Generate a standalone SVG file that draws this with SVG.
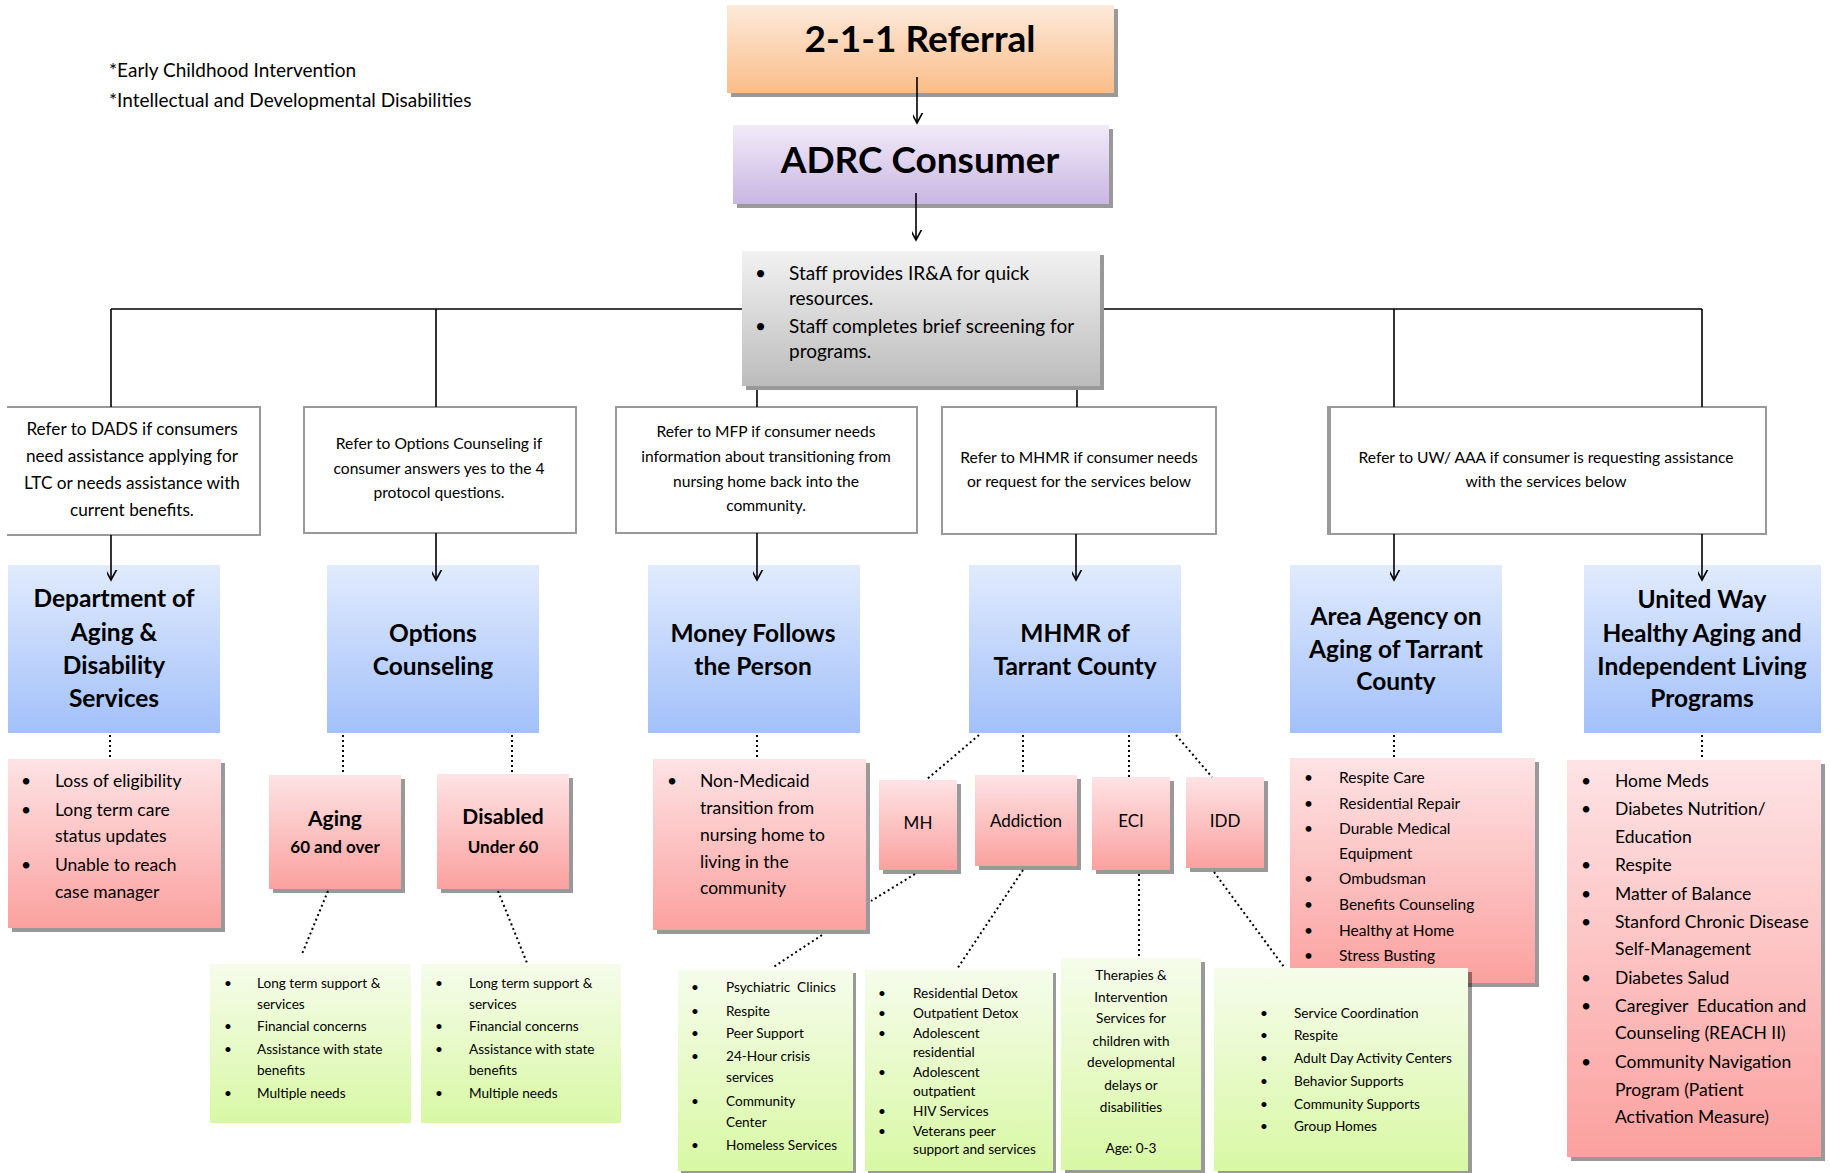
<svg xmlns="http://www.w3.org/2000/svg" width="1830" height="1173" viewBox="0 0 1830 1173">
<style>
text{font-family:Lato,"Liberation Sans",sans-serif;fill:#000}
.b{font-weight:bold}
.c{text-anchor:middle}
.sh{fill:#000;fill-opacity:0.4}
.ref{fill:#fff;stroke:#999;stroke-width:2}
.ln{stroke:#000;stroke-width:1.6;fill:none}
.dot{stroke:#000;stroke-width:2;fill:none;stroke-dasharray:2 3}
.or{fill:url(#gOr)}.pu{fill:url(#gPu)}.gr{fill:url(#gGr)}.bl{fill:url(#gBl)}.pk{fill:url(#gPk)}.gn{fill:url(#gGn)}
.f17{font-size:17.5px}.f15{font-size:15.6px}.f16{font-size:17.2px}.f13{font-size:13.6px}.f24{font-size:24.5px}.f155{font-size:15.5px}.f19{font-size:19px}
</style>
<defs>
<linearGradient id="gOr" x1="0" y1="0" x2="0" y2="1"><stop offset="0" stop-color="#fdeadb"/><stop offset="1" stop-color="#fbbd89"/></linearGradient>
<linearGradient id="gPu" x1="0" y1="0" x2="0" y2="1"><stop offset="0" stop-color="#f1ebf9"/><stop offset="1" stop-color="#cab6e3"/></linearGradient>
<linearGradient id="gGr" x1="0" y1="0" x2="0" y2="1"><stop offset="0" stop-color="#f2f2f2"/><stop offset="1" stop-color="#bcbcbc"/></linearGradient>
<linearGradient id="gBl" x1="0" y1="0" x2="0" y2="1"><stop offset="0" stop-color="#e1ebfd"/><stop offset="1" stop-color="#a2c0fa"/></linearGradient>
<linearGradient id="gPk" x1="0" y1="0" x2="0" y2="1"><stop offset="0" stop-color="#fee3e5"/><stop offset="1" stop-color="#fba19f"/></linearGradient>
<linearGradient id="gGn" x1="0" y1="0" x2="0" y2="1"><stop offset="0" stop-color="#f6fceb"/><stop offset="1" stop-color="#d8f8a4"/></linearGradient>
<marker id="arr" markerUnits="userSpaceOnUse" markerWidth="20" markerHeight="20" viewBox="-10 -16 20 20" refX="0" refY="0" orient="auto">
<path d="M-13,-7 L0,0 L-13,7" fill="none" stroke="#000" stroke-width="1.6"/>
</marker>
</defs>
<rect width="1830" height="1173" fill="#fff"/>

<g id="notes">
<text class="f19" x="109" y="77">*Early Childhood Intervention</text>
<text class="f19" x="109" y="107">*Intellectual and Developmental Disabilities</text>
</g>

<g id="referral211">
<rect class="sh" x="731" y="9" width="387" height="88"/>
<rect class="or" x="727" y="5" width="387" height="88"/>
<text class="b c" x="920" y="52" font-size="37">2-1-1 Referral</text>
</g>

<g id="adrc">
<rect class="sh" x="737" y="129" width="376" height="79"/>
<rect class="pu" x="733" y="125" width="376" height="79"/>
<text class="b c" x="920" y="173" font-size="37">ADRC Consumer</text>
</g>

<g id="staff">
<rect class="sh" x="746" y="255" width="358" height="135"/>
<rect class="gr" x="742" y="251" width="358" height="135"/>
<text class="f19" x="755" y="280">•</text>
<text class="f19" x="789" y="280">Staff provides IR&amp;A for quick</text>
<text class="f19" x="789" y="305">resources.</text>
<text class="f19" x="755" y="333">•</text>
<text class="f19" x="789" y="333">Staff completes brief screening for</text>
<text class="f19" x="789" y="358">programs.</text>
</g>

<g id="ref-dads">
<rect fill="#fff" x="7" y="407" width="253" height="128"/>
<path d="M7,407 H260 V535 H7" fill="none" stroke="#999" stroke-width="2"/>
<text class="c f16" x="132" y="435">Refer to DADS if consumers</text>
<text class="c f16" x="132" y="462">need assistance applying for</text>
<text class="c f16" x="132" y="489">LTC or needs assistance with</text>
<text class="c f16" x="132" y="516">current benefits.</text>
</g>

<g id="ref-options">
<rect class="ref" x="304" y="407" width="272" height="126"/>
<text class="c f15" x="439" y="449">Refer to Options Counseling if</text>
<text class="c f15" x="439" y="474">consumer answers yes to the 4</text>
<text class="c f15" x="439" y="498">protocol questions.</text>
</g>

<g id="ref-mfp">
<rect class="ref" x="616" y="407" width="301" height="126"/>
<text class="c f15" x="766" y="437">Refer to MFP if consumer needs</text>
<text class="c f15" x="766" y="462">information about transitioning from</text>
<text class="c f15" x="766" y="487">nursing home back into the</text>
<text class="c f15" x="766" y="511">community.</text>
</g>

<g id="ref-mhmr">
<rect class="ref" x="942" y="407" width="274" height="127"/>
<text class="c f15" x="1079" y="463">Refer to MHMR if consumer needs</text>
<text class="c f15" x="1079" y="487">or request for the services below</text>
</g>

<g id="ref-uwaaa">
<rect class="ref" x="1328" y="407" width="438" height="127"/>
<rect fill="#999" x="1327" y="406" width="4" height="129"/>
<text class="c f15" x="1546" y="463">Refer to UW/ AAA if consumer is requesting assistance</text>
<text class="c f15" x="1546" y="487">with the services below</text>
</g>

<g id="dads">
<rect class="bl" x="8" y="565" width="212" height="168"/>
<text class="b c f24" x="114" y="607">Department of</text>
<text class="b c f24" x="114" y="641">Aging &amp;</text>
<text class="b c f24" x="114" y="674">Disability</text>
<text class="b c f24" x="114" y="707">Services</text>
</g>

<g id="options">
<rect class="bl" x="327" y="565" width="212" height="168"/>
<text class="b c f24" x="433" y="642">Options</text>
<text class="b c f24" x="433" y="675">Counseling</text>
</g>

<g id="mfp">
<rect class="bl" x="648" y="565" width="212" height="168"/>
<text class="b c f24" x="753" y="642">Money Follows</text>
<text class="b c f24" x="753" y="675">the Person</text>
</g>

<g id="mhmr">
<rect class="bl" x="969" y="565" width="212" height="168"/>
<text class="b c f24" x="1075" y="642">MHMR of</text>
<text class="b c f24" x="1075" y="675">Tarrant County</text>
</g>

<g id="aaa">
<rect class="bl" x="1290" y="565" width="212" height="168"/>
<text class="b c f24" x="1396" y="625">Area Agency on</text>
<text class="b c f24" x="1396" y="658">Aging of Tarrant</text>
<text class="b c f24" x="1396" y="690">County</text>
</g>

<g id="uw">
<rect class="bl" x="1584" y="565" width="237" height="168"/>
<text class="b c f24" x="1702" y="608">United Way</text>
<text class="b c f24" x="1702" y="642">Healthy Aging and</text>
<text class="b c f24" x="1702" y="675">Independent Living</text>
<text class="b c f24" x="1702" y="707">Programs</text>
</g>

<g id="dads-list">
<rect class="sh" x="12" y="763" width="213" height="169"/>
<rect class="pk" x="8" y="759" width="213" height="169"/>
<text class="f17" x="21" y="787">•</text><text class="f17" x="55" y="787">Loss of eligibility</text>
<text class="f17" x="21" y="816">•</text><text class="f17" x="55" y="816">Long term care</text>
<text class="f17" x="55" y="842">status updates</text>
<text class="f17" x="21" y="871">•</text><text class="f17" x="55" y="871">Unable to reach</text>
<text class="f17" x="55" y="898">case manager</text>
</g>

<g id="aging">
<rect class="sh" x="273" y="779" width="132" height="114"/>
<rect class="pk" x="269" y="775" width="132" height="114"/>
<text class="b c" x="335" y="826" font-size="21">Aging</text>
<text class="b c" x="335" y="853" font-size="17">60 and over</text>
</g>

<g id="disabled">
<rect class="sh" x="441" y="778" width="132" height="115"/>
<rect class="pk" x="437" y="774" width="132" height="115"/>
<text class="b c" x="503" y="824" font-size="21">Disabled</text>
<text class="b c" x="503" y="853" font-size="17">Under 60</text>
</g>

<g id="aging-list">
<rect class="gn" x="210" y="964" width="201" height="159"/>
<text class="f13" x="224" y="988">•</text><text class="f13" x="257" y="988">Long term support &amp;</text>
<text class="f13" x="257" y="1009">services</text>
<text class="f13" x="224" y="1031">•</text><text class="f13" x="257" y="1031">Financial concerns</text>
<text class="f13" x="224" y="1054">•</text><text class="f13" x="257" y="1054">Assistance with state</text>
<text class="f13" x="257" y="1075">benefits</text>
<text class="f13" x="224" y="1098">•</text><text class="f13" x="257" y="1098">Multiple needs</text>
</g>

<g id="disabled-list">
<rect class="gn" x="421" y="964" width="200" height="159"/>
<text class="f13" x="435" y="988">•</text><text class="f13" x="469" y="988">Long term support &amp;</text>
<text class="f13" x="469" y="1009">services</text>
<text class="f13" x="435" y="1031">•</text><text class="f13" x="469" y="1031">Financial concerns</text>
<text class="f13" x="435" y="1054">•</text><text class="f13" x="469" y="1054">Assistance with state</text>
<text class="f13" x="469" y="1075">benefits</text>
<text class="f13" x="435" y="1098">•</text><text class="f13" x="469" y="1098">Multiple needs</text>
</g>

<g id="mfp-list">
<rect class="sh" x="657" y="763" width="213" height="171"/>
<rect class="pk" x="653" y="759" width="213" height="171"/>
<text class="f17" x="667" y="787">•</text><text class="f17" x="700" y="787">Non-Medicaid</text>
<text class="f17" x="700" y="814">transition from</text>
<text class="f17" x="700" y="841">nursing home to</text>
<text class="f17" x="700" y="868">living in the</text>
<text class="f17" x="700" y="894">community</text>
</g>

<g id="mh">
<rect class="sh" x="883" y="784" width="78" height="90"/>
<rect class="pk" x="879" y="780" width="78" height="90"/>
<text class="c" x="918" y="829" font-size="17">MH</text>
</g>

<g id="addiction">
<rect class="sh" x="979" y="779" width="102" height="91"/>
<rect class="pk" x="975" y="775" width="102" height="91"/>
<text class="c" x="1026" y="827" font-size="17">Addiction</text>
</g>

<g id="eci">
<rect class="sh" x="1096" y="781" width="78" height="93"/>
<rect class="pk" x="1092" y="777" width="78" height="93"/>
<text class="c" x="1131" y="827" font-size="17">ECI</text>
</g>

<g id="idd">
<rect class="sh" x="1190" y="781" width="78" height="91"/>
<rect class="pk" x="1186" y="777" width="78" height="91"/>
<text class="c" x="1225" y="827" font-size="17">IDD</text>
</g>

<g id="aaa-list">
<rect class="sh" x="1294" y="762" width="245" height="225"/>
<rect class="pk" x="1290" y="758" width="245" height="225"/>
<text class="f155" x="1304" y="783">•</text><text class="f155" x="1339" y="783">Respite Care</text>
<text class="f155" x="1304" y="809">•</text><text class="f155" x="1339" y="809">Residential Repair</text>
<text class="f155" x="1304" y="834">•</text><text class="f155" x="1339" y="834">Durable Medical</text>
<text class="f155" x="1339" y="859">Equipment</text>
<text class="f155" x="1304" y="884">•</text><text class="f155" x="1339" y="884">Ombudsman</text>
<text class="f155" x="1304" y="910">•</text><text class="f155" x="1339" y="910">Benefits Counseling</text>
<text class="f155" x="1304" y="936">•</text><text class="f155" x="1339" y="936">Healthy at Home</text>
<text class="f155" x="1304" y="961">•</text><text class="f155" x="1339" y="961">Stress Busting</text>
</g>

<g id="uw-list">
<rect class="sh" x="1571" y="764" width="254" height="397"/>
<rect class="pk" x="1567" y="760" width="254" height="397"/>
<text class="f17" x="1581" y="787">•</text><text class="f17" x="1615" y="787">Home Meds</text>
<text class="f17" x="1581" y="815">•</text><text class="f17" x="1615" y="815">Diabetes Nutrition/</text>
<text class="f17" x="1615" y="843">Education</text>
<text class="f17" x="1581" y="871">•</text><text class="f17" x="1615" y="871">Respite</text>
<text class="f17" x="1581" y="900">•</text><text class="f17" x="1615" y="900">Matter of Balance</text>
<text class="f17" x="1581" y="928">•</text><text class="f17" x="1615" y="928">Stanford Chronic Disease</text>
<text class="f17" x="1615" y="955">Self-Management</text>
<text class="f17" x="1581" y="984">•</text><text class="f17" x="1615" y="984">Diabetes Salud</text>
<text class="f17" x="1581" y="1012">•</text><text class="f17" x="1615" y="1012">Caregiver&#160; Education and</text>
<text class="f17" x="1615" y="1039">Counseling (REACH II)</text>
<text class="f17" x="1581" y="1068">•</text><text class="f17" x="1615" y="1068">Community Navigation</text>
<text class="f17" x="1615" y="1096">Program (Patient</text>
<text class="f17" x="1615" y="1123">Activation Measure)</text>
</g>

<g id="mh-list">
<rect class="sh" x="681" y="973" width="175" height="202"/>
<rect class="gn" x="678" y="970" width="175" height="201"/>
<text class="f13" x="691" y="992">•</text><text class="f13" x="726" y="992">Psychiatric&#160; Clinics</text>
<text class="f13" x="691" y="1016">•</text><text class="f13" x="726" y="1016">Respite</text>
<text class="f13" x="691" y="1038">•</text><text class="f13" x="726" y="1038">Peer Support</text>
<text class="f13" x="691" y="1061">•</text><text class="f13" x="726" y="1061">24-Hour crisis</text>
<text class="f13" x="726" y="1082">services</text>
<text class="f13" x="691" y="1106">•</text><text class="f13" x="726" y="1106">Community</text>
<text class="f13" x="726" y="1127">Center</text>
<text class="f13" x="691" y="1150">•</text><text class="f13" x="726" y="1150">Homeless Services</text>
</g>

<g id="addiction-list">
<rect class="sh" x="868" y="973" width="188" height="202"/>
<rect class="gn" x="865" y="970" width="188" height="201"/>
<text class="f13" x="878" y="998">•</text><text class="f13" x="913" y="998">Residential Detox</text>
<text class="f13" x="878" y="1018">•</text><text class="f13" x="913" y="1018">Outpatient Detox</text>
<text class="f13" x="878" y="1038">•</text><text class="f13" x="913" y="1038">Adolescent</text>
<text class="f13" x="913" y="1057">residential</text>
<text class="f13" x="878" y="1077">•</text><text class="f13" x="913" y="1077">Adolescent</text>
<text class="f13" x="913" y="1096">outpatient</text>
<text class="f13" x="878" y="1116">•</text><text class="f13" x="913" y="1116">HIV Services</text>
<text class="f13" x="878" y="1136">•</text><text class="f13" x="913" y="1136">Veterans peer</text>
<text class="f13" x="913" y="1154">support and services</text>
</g>

<g id="eci-list">
<rect class="sh" x="1065" y="962" width="140" height="211"/>
<rect class="gn" x="1061" y="958" width="140" height="212"/>
<text class="c f13" x="1131" y="980">Therapies &amp;</text>
<text class="c f13" x="1131" y="1002">Intervention</text>
<text class="c f13" x="1131" y="1023">Services for</text>
<text class="c f13" x="1131" y="1046">children with</text>
<text class="c f13" x="1131" y="1067">developmental</text>
<text class="c f13" x="1131" y="1090">delays or</text>
<text class="c f13" x="1131" y="1112">disabilities</text>
<text class="c f13" x="1131" y="1153">Age: 0-3</text>
</g>

<g id="idd-list">
<rect class="sh" x="1218" y="972" width="254" height="203"/>
<rect class="gn" x="1214" y="968" width="254" height="203"/>
<text class="f13" x="1260" y="1018">•</text><text class="f13" x="1294" y="1018">Service Coordination</text>
<text class="f13" x="1260" y="1040">•</text><text class="f13" x="1294" y="1040">Respite</text>
<text class="f13" x="1260" y="1063">•</text><text class="f13" x="1294" y="1063">Adult Day Activity Centers</text>
<text class="f13" x="1260" y="1086">•</text><text class="f13" x="1294" y="1086">Behavior Supports</text>
<text class="f13" x="1260" y="1109">•</text><text class="f13" x="1294" y="1109">Community Supports</text>
<text class="f13" x="1260" y="1131">•</text><text class="f13" x="1294" y="1131">Group Homes</text>
</g>

<g id="connectors">
<line class="ln" x1="917" y1="77" x2="917" y2="123" marker-end="url(#arr)"/>
<line class="ln" x1="916" y1="193" x2="916" y2="240" marker-end="url(#arr)"/>
<line class="ln" x1="111" y1="309" x2="742" y2="309"/>
<line class="ln" x1="1104" y1="309" x2="1702" y2="309"/>
<line class="ln" x1="111" y1="309" x2="111" y2="407"/>
<line class="ln" x1="436" y1="309" x2="436" y2="407"/>
<line class="ln" x1="757" y1="390" x2="757" y2="407"/>
<line class="ln" x1="1077" y1="390" x2="1077" y2="407"/>
<line class="ln" x1="1394" y1="309" x2="1394" y2="407"/>
<line class="ln" x1="1702" y1="309" x2="1702" y2="407"/>
<line class="ln" x1="111" y1="535" x2="111" y2="580" marker-end="url(#arr)"/>
<line class="ln" x1="436" y1="533" x2="436" y2="580" marker-end="url(#arr)"/>
<line class="ln" x1="757" y1="533" x2="757" y2="580" marker-end="url(#arr)"/>
<line class="ln" x1="1076" y1="534" x2="1076" y2="580" marker-end="url(#arr)"/>
<line class="ln" x1="1394" y1="534" x2="1394" y2="580" marker-end="url(#arr)"/>
<line class="ln" x1="1702" y1="534" x2="1702" y2="580" marker-end="url(#arr)"/>
<line class="dot" x1="110" y1="735" x2="110" y2="759"/>
<line class="dot" x1="343" y1="735" x2="343" y2="775"/>
<line class="dot" x1="512" y1="735" x2="512" y2="774"/>
<line class="dot" x1="328" y1="891" x2="302" y2="954"/>
<line class="dot" x1="498" y1="891" x2="527" y2="963"/>
<line class="dot" x1="757" y1="735" x2="757" y2="759"/>
<line class="dot" x1="979" y1="735" x2="926" y2="780"/>
<line class="dot" x1="1023" y1="735" x2="1023" y2="775"/>
<line class="dot" x1="1129" y1="735" x2="1129" y2="777"/>
<line class="dot" x1="1176" y1="735" x2="1212" y2="777"/>
<line class="dot" x1="915" y1="874" x2="871" y2="901"/>
<line class="dot" x1="822" y1="935" x2="772" y2="968"/>
<line class="dot" x1="1023" y1="870" x2="957" y2="969"/>
<line class="dot" x1="1139" y1="874" x2="1139" y2="957"/>
<line class="dot" x1="1214" y1="872" x2="1284" y2="967"/>
<line class="dot" x1="1394" y1="735" x2="1394" y2="758"/>
<line class="dot" x1="1702" y1="735" x2="1702" y2="760"/>
</g>
</svg>
